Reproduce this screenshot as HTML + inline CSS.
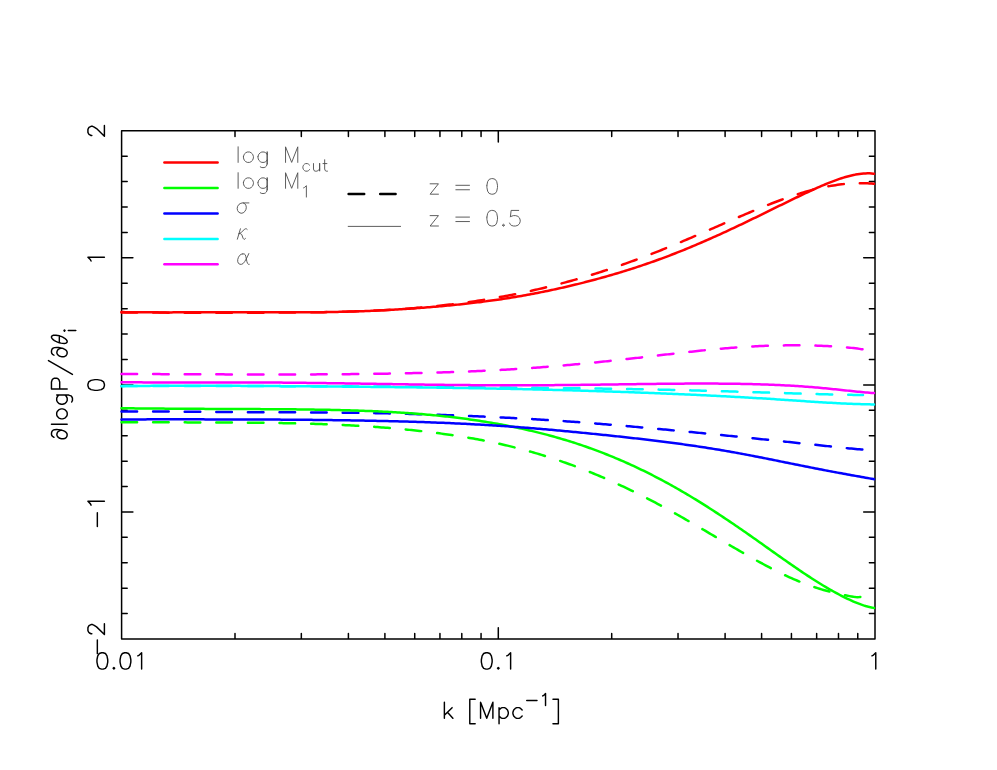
<!DOCTYPE html>
<html><head><meta charset="utf-8"><title>Chart</title>
<style>html,body{margin:0;padding:0;background:#fff;font-family:"Liberation Sans",sans-serif;}svg{display:block}</style>
</head><body>
<svg width="997" height="770" viewBox="0 0 997 770" fill="none" stroke-linecap="round" stroke-linejoin="round">
<path d="M121.6 130.8H875.0V639.0H121.6ZM121.6 639.00h11.3M875.0 639.00h-11.3M121.6 613.59h5.6M875.0 613.59h-5.6M121.6 588.18h5.6M875.0 588.18h-5.6M121.6 562.77h5.6M875.0 562.77h-5.6M121.6 537.36h5.6M875.0 537.36h-5.6M121.6 511.95h11.3M875.0 511.95h-11.3M121.6 486.54h5.6M875.0 486.54h-5.6M121.6 461.13h5.6M875.0 461.13h-5.6M121.6 435.72h5.6M875.0 435.72h-5.6M121.6 410.31h5.6M875.0 410.31h-5.6M121.6 384.90h11.3M875.0 384.90h-11.3M121.6 359.49h5.6M875.0 359.49h-5.6M121.6 334.08h5.6M875.0 334.08h-5.6M121.6 308.67h5.6M875.0 308.67h-5.6M121.6 283.26h5.6M875.0 283.26h-5.6M121.6 257.85h11.3M875.0 257.85h-11.3M121.6 232.44h5.6M875.0 232.44h-5.6M121.6 207.03h5.6M875.0 207.03h-5.6M121.6 181.62h5.6M875.0 181.62h-5.6M121.6 156.21h5.6M875.0 156.21h-5.6M121.6 130.80h11.3M875.0 130.80h-11.3M235.00 639.0v-5.6M235.00 130.8v5.6M301.33 639.0v-5.6M301.33 130.8v5.6M348.40 639.0v-5.6M348.40 130.8v5.6M384.90 639.0v-5.6M384.90 130.8v5.6M414.73 639.0v-5.6M414.73 130.8v5.6M439.95 639.0v-5.6M439.95 130.8v5.6M461.79 639.0v-5.6M461.79 130.8v5.6M481.06 639.0v-5.6M481.06 130.8v5.6M498.30 639.0v-11.3M498.30 130.8v11.3M611.70 639.0v-5.6M611.70 130.8v5.6M678.03 639.0v-5.6M678.03 130.8v5.6M725.10 639.0v-5.6M725.10 130.8v5.6M761.60 639.0v-5.6M761.60 130.8v5.6M791.43 639.0v-5.6M791.43 130.8v5.6M816.65 639.0v-5.6M816.65 130.8v5.6M838.49 639.0v-5.6M838.49 130.8v5.6M857.76 639.0v-5.6M857.76 130.8v5.6" stroke="#000" stroke-width="1.5" />
<path d="M121.5 312.50 123.5 312.50 125.5 312.51 127.5 312.52 129.5 312.53 131.5 312.54 133.5 312.55 135.5 312.55 137.5 312.56 139.5 312.57 141.5 312.57 143.5 312.58 145.5 312.58 147.5 312.59 149.5 312.59 151.5 312.60 153.5 312.60 155.5 312.61 157.5 312.61 159.5 312.61 161.5 312.62 163.5 312.62 165.5 312.62 167.5 312.63 169.5 312.63 171.5 312.63 173.5 312.63 175.5 312.63 177.5 312.64 179.5 312.64 181.5 312.64 183.5 312.64 185.5 312.64 187.5 312.64 189.5 312.64 191.5 312.64 193.5 312.64 195.5 312.64 197.5 312.64 199.5 312.65 201.5 312.65 203.5 312.65 205.5 312.65 207.5 312.65 209.5 312.65 211.5 312.65 213.5 312.65 215.5 312.65 217.5 312.65 219.5 312.65 221.5 312.65 223.5 312.65 225.5 312.65 227.5 312.65 229.5 312.65 231.5 312.65 233.5 312.65 235.5 312.65 237.5 312.65 239.5 312.66 241.5 312.66 243.5 312.66 245.5 312.66 247.5 312.66 249.5 312.66 251.5 312.66 253.5 312.66 255.5 312.66 257.5 312.65 259.5 312.65 261.5 312.65 263.5 312.65 265.5 312.65 267.5 312.64 269.5 312.64 271.5 312.63 273.5 312.63 275.5 312.62 277.5 312.61 279.5 312.61 281.5 312.60 283.5 312.59 285.5 312.58 287.5 312.56 289.5 312.55 291.5 312.54 293.5 312.52 295.5 312.51 297.5 312.49 299.5 312.47 301.5 312.46 303.5 312.44 305.5 312.41 307.5 312.39 309.5 312.37 311.5 312.34 313.5 312.31 315.5 312.29 317.5 312.25 319.5 312.22 321.5 312.19 323.5 312.16 325.5 312.12 327.5 312.08 329.5 312.04 331.5 312.00 333.5 311.96 335.5 311.91 337.5 311.86 339.5 311.81 341.5 311.76 343.5 311.71 345.5 311.66 347.5 311.60 349.5 311.54 351.5 311.48 353.5 311.41 355.5 311.35 357.5 311.28 359.5 311.21 361.5 311.14 363.5 311.06 365.5 310.98 367.5 310.90 369.5 310.82 371.5 310.73 373.5 310.64 375.5 310.55 377.5 310.45 379.5 310.35 381.5 310.25 383.5 310.15 385.5 310.04 387.5 309.93 389.5 309.82 391.5 309.70 393.5 309.58 395.5 309.45 397.5 309.33 399.5 309.19 401.5 309.06 403.5 308.92 405.5 308.78 407.5 308.63 409.5 308.48 411.5 308.33 413.5 308.17 415.5 308.01 417.5 307.85 419.5 307.68 421.5 307.50 423.5 307.33 425.5 307.14 427.5 306.96 429.5 306.77 431.5 306.57 433.5 306.37 435.5 306.17 437.5 305.96 439.5 305.75 441.5 305.53 443.5 305.31 445.5 305.08 447.5 304.85 449.5 304.61 451.5 304.37 453.5 304.13 455.5 303.88 457.5 303.63 459.5 303.37 461.5 303.10 463.5 302.83 465.5 302.56 467.5 302.28 469.5 302.00 471.5 301.71 473.5 301.42 475.5 301.12 477.5 300.82 479.5 300.51 481.5 300.20 483.5 299.88 485.5 299.56 487.5 299.23 489.5 298.90 491.5 298.56 493.5 298.22 495.5 297.87 497.5 297.52 499.5 297.16 501.5 296.80 503.5 296.43 505.5 296.06 507.5 295.68 509.5 295.29 511.5 294.90 513.5 294.51 515.5 294.11 517.5 293.71 519.5 293.29 521.5 292.88 523.5 292.46 525.5 292.03 527.5 291.60 529.5 291.16 531.5 290.72 533.5 290.27 535.5 289.82 537.5 289.36 539.5 288.89 541.5 288.42 543.5 287.95 545.5 287.46 547.5 286.98 549.5 286.49 551.5 285.99 553.5 285.48 555.5 284.98 557.5 284.46 559.5 283.94 561.5 283.42 563.5 282.88 565.5 282.35 567.5 281.80 569.5 281.26 571.5 280.70 573.5 280.14 575.5 279.58 577.5 279.01 579.5 278.43 581.5 277.85 583.5 277.26 585.5 276.66 587.5 276.06 589.5 275.46 591.5 274.85 593.5 274.23 595.5 273.61 597.5 272.98 599.5 272.34 601.5 271.70 603.5 271.06 605.5 270.40 607.5 269.75 609.5 269.08 611.5 268.42 613.5 267.74 615.5 267.06 617.5 266.38 619.5 265.69 621.5 264.99 623.5 264.29 625.5 263.59 627.5 262.88 629.5 262.16 631.5 261.44 633.5 260.71 635.5 259.98 637.5 259.24 639.5 258.50 641.5 257.75 643.5 257.00 645.5 256.24 647.5 255.48 649.5 254.71 651.5 253.94 653.5 253.16 655.5 252.38 657.5 251.60 659.5 250.80 661.5 250.01 663.5 249.21 665.5 248.40 667.5 247.59 669.5 246.78 671.5 245.96 673.5 245.13 675.5 244.31 677.5 243.47 679.5 242.64 681.5 241.80 683.5 240.96 685.5 240.11 687.5 239.26 689.5 238.41 691.5 237.55 693.5 236.70 695.5 235.84 697.5 234.97 699.5 234.11 701.5 233.25 703.5 232.38 705.5 231.51 707.5 230.64 709.5 229.77 711.5 228.90 713.5 228.03 715.5 227.16 717.5 226.29 719.5 225.42 721.5 224.55 723.5 223.68 725.5 222.81 727.5 221.94 729.5 221.07 731.5 220.21 733.5 219.34 735.5 218.48 737.5 217.62 739.5 216.76 741.5 215.91 743.5 215.05 745.5 214.20 747.5 213.35 749.5 212.51 751.5 211.67 753.5 210.83 755.5 210.00 757.5 209.17 759.5 208.34 761.5 207.53 763.5 206.71 765.5 205.91 767.5 205.11 769.5 204.32 771.5 203.53 773.5 202.76 775.5 201.99 777.5 201.23 779.5 200.48 781.5 199.74 783.5 199.01 785.5 198.30 787.5 197.59 789.5 196.90 791.5 196.21 793.5 195.54 795.5 194.89 797.5 194.24 799.5 193.61 801.5 193.00 803.5 192.40 805.5 191.81 807.5 191.24 809.5 190.69 811.5 190.15 813.5 189.64 815.5 189.13 817.5 188.65 819.5 188.18 821.5 187.73 823.5 187.31 825.5 186.90 827.5 186.51 829.5 186.14 831.5 185.79 833.5 185.46 835.5 185.15 837.5 184.86 839.5 184.60 841.5 184.35 843.5 184.13 845.5 183.94 847.5 183.76 849.5 183.61 851.5 183.48 853.5 183.38 855.5 183.30 857.5 183.25 859.5 183.22 861.5 183.22 863.5 183.24 865.5 183.29 867.5 183.36 869.5 183.47 871.5 183.59 873.5 183.74 874.0 183.79" stroke="#ff0000" stroke-width="2.5" stroke-dasharray="15.6 16"/>
<path d="M121.5 422.20 123.5 422.20 125.5 422.21 127.5 422.21 129.5 422.22 131.5 422.23 133.5 422.23 135.5 422.24 137.5 422.24 139.5 422.25 141.5 422.25 143.5 422.26 145.5 422.26 147.5 422.27 149.5 422.27 151.5 422.28 153.5 422.28 155.5 422.29 157.5 422.29 159.5 422.30 161.5 422.30 163.5 422.31 165.5 422.32 167.5 422.32 169.5 422.33 171.5 422.33 173.5 422.34 175.5 422.34 177.5 422.35 179.5 422.35 181.5 422.36 183.5 422.36 185.5 422.37 187.5 422.38 189.5 422.38 191.5 422.39 193.5 422.40 195.5 422.40 197.5 422.41 199.5 422.42 201.5 422.43 203.5 422.43 205.5 422.44 207.5 422.45 209.5 422.46 211.5 422.47 213.5 422.48 215.5 422.49 217.5 422.50 219.5 422.51 221.5 422.52 223.5 422.53 225.5 422.54 227.5 422.55 229.5 422.56 231.5 422.57 233.5 422.59 235.5 422.60 237.5 422.61 239.5 422.62 241.5 422.64 243.5 422.65 245.5 422.67 247.5 422.69 249.5 422.70 251.5 422.72 253.5 422.74 255.5 422.76 257.5 422.78 259.5 422.80 261.5 422.82 263.5 422.85 265.5 422.87 267.5 422.89 269.5 422.92 271.5 422.95 273.5 422.98 275.5 423.01 277.5 423.04 279.5 423.07 281.5 423.10 283.5 423.14 285.5 423.18 287.5 423.21 289.5 423.25 291.5 423.30 293.5 423.34 295.5 423.38 297.5 423.43 299.5 423.48 301.5 423.53 303.5 423.58 305.5 423.63 307.5 423.68 309.5 423.74 311.5 423.80 313.5 423.86 315.5 423.92 317.5 423.99 319.5 424.06 321.5 424.12 323.5 424.20 325.5 424.27 327.5 424.35 329.5 424.42 331.5 424.50 333.5 424.59 335.5 424.67 337.5 424.76 339.5 424.85 341.5 424.94 343.5 425.04 345.5 425.14 347.5 425.24 349.5 425.34 351.5 425.44 353.5 425.55 355.5 425.66 357.5 425.78 359.5 425.90 361.5 426.02 363.5 426.14 365.5 426.27 367.5 426.39 369.5 426.53 371.5 426.66 373.5 426.80 375.5 426.94 377.5 427.09 379.5 427.23 381.5 427.39 383.5 427.54 385.5 427.70 387.5 427.86 389.5 428.02 391.5 428.19 393.5 428.36 395.5 428.54 397.5 428.72 399.5 428.90 401.5 429.08 403.5 429.27 405.5 429.47 407.5 429.66 409.5 429.87 411.5 430.07 413.5 430.28 415.5 430.49 417.5 430.71 419.5 430.93 421.5 431.15 423.5 431.38 425.5 431.61 427.5 431.85 429.5 432.09 431.5 432.33 433.5 432.58 435.5 432.84 437.5 433.09 439.5 433.36 441.5 433.62 443.5 433.90 445.5 434.17 447.5 434.45 449.5 434.74 451.5 435.03 453.5 435.33 455.5 435.63 457.5 435.94 459.5 436.25 461.5 436.57 463.5 436.90 465.5 437.23 467.5 437.56 469.5 437.90 471.5 438.25 473.5 438.60 475.5 438.96 477.5 439.33 479.5 439.70 481.5 440.08 483.5 440.47 485.5 440.86 487.5 441.26 489.5 441.67 491.5 442.08 493.5 442.50 495.5 442.93 497.5 443.36 499.5 443.80 501.5 444.25 503.5 444.71 505.5 445.17 507.5 445.64 509.5 446.12 511.5 446.61 513.5 447.11 515.5 447.61 517.5 448.12 519.5 448.64 521.5 449.17 523.5 449.70 525.5 450.25 527.5 450.80 529.5 451.36 531.5 451.92 533.5 452.50 535.5 453.08 537.5 453.67 539.5 454.27 541.5 454.88 543.5 455.49 545.5 456.12 547.5 456.75 549.5 457.39 551.5 458.03 553.5 458.69 555.5 459.35 557.5 460.02 559.5 460.70 561.5 461.39 563.5 462.09 565.5 462.79 567.5 463.50 569.5 464.22 571.5 464.95 573.5 465.69 575.5 466.43 577.5 467.18 579.5 467.95 581.5 468.72 583.5 469.49 585.5 470.28 587.5 471.07 589.5 471.87 591.5 472.68 593.5 473.50 595.5 474.33 597.5 475.16 599.5 476.01 601.5 476.86 603.5 477.72 605.5 478.58 607.5 479.46 609.5 480.34 611.5 481.23 613.5 482.13 615.5 483.04 617.5 483.95 619.5 484.87 621.5 485.80 623.5 486.74 625.5 487.68 627.5 488.63 629.5 489.59 631.5 490.56 633.5 491.54 635.5 492.52 637.5 493.51 639.5 494.50 641.5 495.51 643.5 496.52 645.5 497.53 647.5 498.56 649.5 499.59 651.5 500.63 653.5 501.68 655.5 502.73 657.5 503.79 659.5 504.86 661.5 505.93 663.5 507.01 665.5 508.10 667.5 509.19 669.5 510.29 671.5 511.40 673.5 512.51 675.5 513.63 677.5 514.76 679.5 515.89 681.5 517.03 683.5 518.17 685.5 519.31 687.5 520.46 689.5 521.62 691.5 522.77 693.5 523.93 695.5 525.10 697.5 526.26 699.5 527.43 701.5 528.61 703.5 529.78 705.5 530.95 707.5 532.13 709.5 533.30 711.5 534.48 713.5 535.66 715.5 536.84 717.5 538.01 719.5 539.19 721.5 540.36 723.5 541.54 725.5 542.71 727.5 543.88 729.5 545.05 731.5 546.22 733.5 547.38 735.5 548.54 737.5 549.70 739.5 550.85 741.5 552.00 743.5 553.14 745.5 554.28 747.5 555.42 749.5 556.55 751.5 557.67 753.5 558.79 755.5 559.90 757.5 561.01 759.5 562.10 761.5 563.19 763.5 564.27 765.5 565.34 767.5 566.40 769.5 567.45 771.5 568.49 773.5 569.52 775.5 570.54 777.5 571.54 779.5 572.53 781.5 573.51 783.5 574.47 785.5 575.42 787.5 576.35 789.5 577.27 791.5 578.17 793.5 579.05 795.5 579.92 797.5 580.76 799.5 581.59 801.5 582.40 803.5 583.19 805.5 583.97 807.5 584.71 809.5 585.44 811.5 586.15 813.5 586.83 815.5 587.50 817.5 588.14 819.5 588.77 821.5 589.37 823.5 589.96 825.5 590.52 827.5 591.07 829.5 591.61 831.5 592.13 833.5 592.63 835.5 593.11 837.5 593.58 839.5 594.04 841.5 594.48 843.5 594.91 845.5 595.33 847.5 595.74 849.5 596.13 851.5 596.51 853.5 596.85 855.5 597.08 857.5 597.18 859.5 597.07 861.2 596.80" stroke="#00ff00" stroke-width="2.5" stroke-dasharray="15.6 16"/>
<path d="M121.5 411.49 123.5 411.49 125.5 411.49 127.5 411.48 129.5 411.48 131.5 411.48 133.5 411.48 135.5 411.48 137.5 411.49 139.5 411.49 141.5 411.49 143.5 411.50 145.5 411.50 147.5 411.50 149.5 411.51 151.5 411.52 153.5 411.52 155.5 411.53 157.5 411.54 159.5 411.55 161.5 411.56 163.5 411.57 165.5 411.58 167.5 411.59 169.5 411.60 171.5 411.61 173.5 411.62 175.5 411.63 177.5 411.65 179.5 411.66 181.5 411.67 183.5 411.69 185.5 411.70 187.5 411.71 189.5 411.73 191.5 411.74 193.5 411.76 195.5 411.77 197.5 411.79 199.5 411.80 201.5 411.82 203.5 411.83 205.5 411.85 207.5 411.86 209.5 411.88 211.5 411.89 213.5 411.91 215.5 411.92 217.5 411.94 219.5 411.95 221.5 411.97 223.5 411.98 225.5 412.00 227.5 412.01 229.5 412.03 231.5 412.04 233.5 412.06 235.5 412.07 237.5 412.08 239.5 412.10 241.5 412.11 243.5 412.12 245.5 412.14 247.5 412.15 249.5 412.16 251.5 412.17 253.5 412.18 255.5 412.19 257.5 412.20 259.5 412.21 261.5 412.22 263.5 412.23 265.5 412.24 267.5 412.25 269.5 412.26 271.5 412.27 273.5 412.28 275.5 412.29 277.5 412.29 279.5 412.30 281.5 412.31 283.5 412.32 285.5 412.33 287.5 412.34 289.5 412.35 291.5 412.35 293.5 412.36 295.5 412.37 297.5 412.38 299.5 412.39 301.5 412.40 303.5 412.41 305.5 412.42 307.5 412.43 309.5 412.44 311.5 412.45 313.5 412.46 315.5 412.47 317.5 412.49 319.5 412.50 321.5 412.51 323.5 412.53 325.5 412.54 327.5 412.55 329.5 412.57 331.5 412.59 333.5 412.60 335.5 412.62 337.5 412.64 339.5 412.65 341.5 412.67 343.5 412.69 345.5 412.71 347.5 412.74 349.5 412.76 351.5 412.78 353.5 412.80 355.5 412.83 357.5 412.85 359.5 412.88 361.5 412.91 363.5 412.94 365.5 412.97 367.5 413.00 369.5 413.03 371.5 413.06 373.5 413.09 375.5 413.13 377.5 413.17 379.5 413.20 381.5 413.24 383.5 413.28 385.5 413.32 387.5 413.36 389.5 413.41 391.5 413.45 393.5 413.50 395.5 413.54 397.5 413.59 399.5 413.64 401.5 413.69 403.5 413.74 405.5 413.79 407.5 413.85 409.5 413.90 411.5 413.96 413.5 414.01 415.5 414.07 417.5 414.13 419.5 414.19 421.5 414.25 423.5 414.31 425.5 414.37 427.5 414.44 429.5 414.50 431.5 414.57 433.5 414.63 435.5 414.70 437.5 414.77 439.5 414.84 441.5 414.91 443.5 414.98 445.5 415.06 447.5 415.13 449.5 415.21 451.5 415.28 453.5 415.36 455.5 415.43 457.5 415.51 459.5 415.59 461.5 415.67 463.5 415.75 465.5 415.83 467.5 415.92 469.5 416.00 471.5 416.08 473.5 416.17 475.5 416.26 477.5 416.34 479.5 416.43 481.5 416.52 483.5 416.61 485.5 416.70 487.5 416.79 489.5 416.88 491.5 416.98 493.5 417.07 495.5 417.17 497.5 417.26 499.5 417.36 501.5 417.46 503.5 417.56 505.5 417.66 507.5 417.76 509.5 417.86 511.5 417.97 513.5 418.07 515.5 418.18 517.5 418.29 519.5 418.40 521.5 418.51 523.5 418.62 525.5 418.73 527.5 418.84 529.5 418.96 531.5 419.07 533.5 419.19 535.5 419.31 537.5 419.43 539.5 419.55 541.5 419.67 543.5 419.79 545.5 419.92 547.5 420.05 549.5 420.17 551.5 420.30 553.5 420.43 555.5 420.56 557.5 420.70 559.5 420.83 561.5 420.97 563.5 421.11 565.5 421.25 567.5 421.39 569.5 421.53 571.5 421.67 573.5 421.82 575.5 421.96 577.5 422.11 579.5 422.26 581.5 422.41 583.5 422.56 585.5 422.71 587.5 422.86 589.5 423.02 591.5 423.17 593.5 423.33 595.5 423.49 597.5 423.65 599.5 423.81 601.5 423.97 603.5 424.13 605.5 424.30 607.5 424.46 609.5 424.63 611.5 424.79 613.5 424.96 615.5 425.13 617.5 425.30 619.5 425.47 621.5 425.64 623.5 425.81 625.5 425.99 627.5 426.16 629.5 426.34 631.5 426.51 633.5 426.69 635.5 426.87 637.5 427.04 639.5 427.22 641.5 427.40 643.5 427.58 645.5 427.76 647.5 427.95 649.5 428.13 651.5 428.31 653.5 428.50 655.5 428.68 657.5 428.87 659.5 429.05 661.5 429.24 663.5 429.42 665.5 429.61 667.5 429.80 669.5 429.99 671.5 430.18 673.5 430.37 675.5 430.56 677.5 430.75 679.5 430.94 681.5 431.13 683.5 431.32 685.5 431.52 687.5 431.71 689.5 431.90 691.5 432.10 693.5 432.29 695.5 432.49 697.5 432.69 699.5 432.88 701.5 433.08 703.5 433.28 705.5 433.47 707.5 433.67 709.5 433.87 711.5 434.07 713.5 434.27 715.5 434.47 717.5 434.67 719.5 434.87 721.5 435.07 723.5 435.27 725.5 435.48 727.5 435.68 729.5 435.88 731.5 436.08 733.5 436.29 735.5 436.49 737.5 436.69 739.5 436.90 741.5 437.10 743.5 437.31 745.5 437.51 747.5 437.72 749.5 437.92 751.5 438.13 753.5 438.34 755.5 438.54 757.5 438.75 759.5 438.96 761.5 439.16 763.5 439.37 765.5 439.58 767.5 439.79 769.5 440.00 771.5 440.21 773.5 440.42 775.5 440.62 777.5 440.83 779.5 441.04 781.5 441.25 783.5 441.46 785.5 441.67 787.5 441.88 789.5 442.10 791.5 442.31 793.5 442.52 795.5 442.73 797.5 442.94 799.5 443.15 801.5 443.36 803.5 443.58 805.5 443.79 807.5 444.00 809.5 444.21 811.5 444.43 813.5 444.64 815.5 444.85 817.5 445.07 819.5 445.28 821.5 445.49 823.5 445.71 825.5 445.92 827.5 446.13 829.5 446.34 831.5 446.56 833.5 446.77 835.5 446.98 837.5 447.18 839.5 447.39 841.5 447.60 843.5 447.80 845.5 448.00 847.5 448.20 849.5 448.39 851.5 448.59 853.5 448.78 855.5 448.96 857.5 449.15 859.5 449.33 861.5 449.51 863.3 449.66" stroke="#0000ff" stroke-width="2.5" stroke-dasharray="15.6 16"/>
<path d="M121.5 386.00 123.5 386.01 125.5 386.01 127.5 386.02 129.5 386.02 131.5 386.03 133.5 386.03 135.5 386.04 137.5 386.04 139.5 386.05 141.5 386.05 143.5 386.06 145.5 386.06 147.5 386.06 149.5 386.07 151.5 386.07 153.5 386.07 155.5 386.07 157.5 386.08 159.5 386.08 161.5 386.08 163.5 386.08 165.5 386.08 167.5 386.09 169.5 386.09 171.5 386.09 173.5 386.09 175.5 386.09 177.5 386.09 179.5 386.09 181.5 386.09 183.5 386.09 185.5 386.10 187.5 386.10 189.5 386.10 191.5 386.10 193.5 386.10 195.5 386.10 197.5 386.10 199.5 386.10 201.5 386.10 203.5 386.10 205.5 386.10 207.5 386.10 209.5 386.10 211.5 386.10 213.5 386.10 215.5 386.10 217.5 386.10 219.5 386.10 221.5 386.10 223.5 386.10 225.5 386.10 227.5 386.10 229.5 386.10 231.5 386.10 233.5 386.10 235.5 386.10 237.5 386.10 239.5 386.10 241.5 386.10 243.5 386.10 245.5 386.10 247.5 386.10 249.5 386.10 251.5 386.10 253.5 386.10 255.5 386.10 257.5 386.10 259.5 386.10 261.5 386.10 263.5 386.11 265.5 386.11 267.5 386.11 269.5 386.11 271.5 386.11 273.5 386.12 275.5 386.12 277.5 386.12 279.5 386.12 281.5 386.13 283.5 386.13 285.5 386.13 287.5 386.14 289.5 386.14 291.5 386.14 293.5 386.15 295.5 386.15 297.5 386.16 299.5 386.16 301.5 386.17 303.5 386.17 305.5 386.18 307.5 386.19 309.5 386.19 311.5 386.20 313.5 386.20 315.5 386.21 317.5 386.22 319.5 386.23 321.5 386.23 323.5 386.24 325.5 386.25 327.5 386.26 329.5 386.27 331.5 386.27 333.5 386.28 335.5 386.29 337.5 386.30 339.5 386.31 341.5 386.32 343.5 386.33 345.5 386.34 347.5 386.35 349.5 386.36 351.5 386.37 353.5 386.38 355.5 386.39 357.5 386.41 359.5 386.42 361.5 386.43 363.5 386.44 365.5 386.45 367.5 386.46 369.5 386.48 371.5 386.49 373.5 386.50 375.5 386.51 377.5 386.53 379.5 386.54 381.5 386.55 383.5 386.57 385.5 386.58 387.5 386.59 389.5 386.61 391.5 386.62 393.5 386.64 395.5 386.65 397.5 386.67 399.5 386.68 401.5 386.69 403.5 386.71 405.5 386.72 407.5 386.74 409.5 386.75 411.5 386.77 413.5 386.79 415.5 386.80 417.5 386.82 419.5 386.83 421.5 386.85 423.5 386.86 425.5 386.88 427.5 386.90 429.5 386.91 431.5 386.93 433.5 386.94 435.5 386.96 437.5 386.98 439.5 386.99 441.5 387.01 443.5 387.03 445.5 387.04 447.5 387.06 449.5 387.08 451.5 387.10 453.5 387.11 455.5 387.13 457.5 387.15 459.5 387.16 461.5 387.18 463.5 387.20 465.5 387.22 467.5 387.23 469.5 387.25 471.5 387.27 473.5 387.29 475.5 387.31 477.5 387.32 479.5 387.34 481.5 387.36 483.5 387.38 485.5 387.39 487.5 387.41 489.5 387.43 491.5 387.45 493.5 387.47 495.5 387.48 497.5 387.50 499.5 387.52 501.5 387.54 503.5 387.56 505.5 387.57 507.5 387.59 509.5 387.61 511.5 387.63 513.5 387.65 515.5 387.67 517.5 387.68 519.5 387.70 521.5 387.72 523.5 387.74 525.5 387.76 527.5 387.78 529.5 387.80 531.5 387.81 533.5 387.83 535.5 387.85 537.5 387.87 539.5 387.89 541.5 387.91 543.5 387.93 545.5 387.95 547.5 387.97 549.5 387.99 551.5 388.01 553.5 388.03 555.5 388.06 557.5 388.08 559.5 388.10 561.5 388.12 563.5 388.14 565.5 388.16 567.5 388.19 569.5 388.21 571.5 388.23 573.5 388.26 575.5 388.28 577.5 388.30 579.5 388.33 581.5 388.35 583.5 388.38 585.5 388.40 587.5 388.43 589.5 388.45 591.5 388.48 593.5 388.51 595.5 388.53 597.5 388.56 599.5 388.59 601.5 388.62 603.5 388.65 605.5 388.67 607.5 388.70 609.5 388.73 611.5 388.76 613.5 388.79 615.5 388.83 617.5 388.86 619.5 388.89 621.5 388.92 623.5 388.96 625.5 388.99 627.5 389.02 629.5 389.06 631.5 389.09 633.5 389.13 635.5 389.16 637.5 389.20 639.5 389.24 641.5 389.28 643.5 389.31 645.5 389.35 647.5 389.39 649.5 389.43 651.5 389.47 653.5 389.51 655.5 389.55 657.5 389.60 659.5 389.64 661.5 389.68 663.5 389.73 665.5 389.77 667.5 389.82 669.5 389.86 671.5 389.91 673.5 389.95 675.5 390.00 677.5 390.05 679.5 390.10 681.5 390.15 683.5 390.19 685.5 390.24 687.5 390.29 689.5 390.34 691.5 390.39 693.5 390.45 695.5 390.50 697.5 390.55 699.5 390.60 701.5 390.65 703.5 390.71 705.5 390.76 707.5 390.82 709.5 390.87 711.5 390.92 713.5 390.98 715.5 391.03 717.5 391.09 719.5 391.15 721.5 391.20 723.5 391.26 725.5 391.32 727.5 391.37 729.5 391.43 731.5 391.49 733.5 391.55 735.5 391.61 737.5 391.66 739.5 391.72 741.5 391.78 743.5 391.84 745.5 391.90 747.5 391.96 749.5 392.02 751.5 392.08 753.5 392.14 755.5 392.20 757.5 392.26 759.5 392.33 761.5 392.39 763.5 392.45 765.5 392.51 767.5 392.57 769.5 392.63 771.5 392.70 773.5 392.76 775.5 392.82 777.5 392.88 779.5 392.94 781.5 393.01 783.5 393.07 785.5 393.13 787.5 393.19 789.5 393.26 791.5 393.32 793.5 393.38 795.5 393.44 797.5 393.50 799.5 393.56 801.5 393.63 803.5 393.69 805.5 393.75 807.5 393.80 809.5 393.86 811.5 393.92 813.5 393.98 815.5 394.03 817.5 394.09 819.5 394.14 821.5 394.20 823.5 394.25 825.5 394.30 827.5 394.35 829.5 394.40 831.5 394.45 833.5 394.50 835.5 394.54 837.5 394.59 839.5 394.63 841.5 394.67 843.5 394.71 845.5 394.75 847.5 394.78 849.5 394.82 851.5 394.85 853.5 394.88 855.5 394.91 857.5 394.94 859.5 394.96 861.5 394.99 863.0 395.00" stroke="#00ffff" stroke-width="2.5" stroke-dasharray="15.6 16"/>
<path d="M121.5 374.09 123.5 374.09 125.5 374.09 127.5 374.09 129.5 374.09 131.5 374.09 133.5 374.09 135.5 374.09 137.5 374.09 139.5 374.09 141.5 374.09 143.5 374.09 145.5 374.10 147.5 374.10 149.5 374.10 151.5 374.11 153.5 374.11 155.5 374.11 157.5 374.12 159.5 374.12 161.5 374.13 163.5 374.14 165.5 374.14 167.5 374.15 169.5 374.15 171.5 374.16 173.5 374.17 175.5 374.18 177.5 374.18 179.5 374.19 181.5 374.20 183.5 374.21 185.5 374.21 187.5 374.22 189.5 374.23 191.5 374.24 193.5 374.25 195.5 374.25 197.5 374.26 199.5 374.27 201.5 374.28 203.5 374.29 205.5 374.30 207.5 374.31 209.5 374.31 211.5 374.32 213.5 374.33 215.5 374.34 217.5 374.35 219.5 374.35 221.5 374.36 223.5 374.37 225.5 374.38 227.5 374.39 229.5 374.39 231.5 374.40 233.5 374.41 235.5 374.41 237.5 374.42 239.5 374.43 241.5 374.43 243.5 374.44 245.5 374.44 247.5 374.45 249.5 374.45 251.5 374.46 253.5 374.46 255.5 374.46 257.5 374.47 259.5 374.47 261.5 374.47 263.5 374.48 265.5 374.48 267.5 374.48 269.5 374.48 271.5 374.48 273.5 374.48 275.5 374.48 277.5 374.48 279.5 374.48 281.5 374.48 283.5 374.48 285.5 374.47 287.5 374.47 289.5 374.47 291.5 374.47 293.5 374.46 295.5 374.46 297.5 374.45 299.5 374.45 301.5 374.44 303.5 374.43 305.5 374.43 307.5 374.42 309.5 374.41 311.5 374.40 313.5 374.39 315.5 374.38 317.5 374.37 319.5 374.36 321.5 374.35 323.5 374.34 325.5 374.33 327.5 374.32 329.5 374.30 331.5 374.29 333.5 374.27 335.5 374.26 337.5 374.24 339.5 374.22 341.5 374.21 343.5 374.19 345.5 374.17 347.5 374.15 349.5 374.13 351.5 374.11 353.5 374.09 355.5 374.07 357.5 374.05 359.5 374.02 361.5 374.00 363.5 373.98 365.5 373.95 367.5 373.93 369.5 373.90 371.5 373.87 373.5 373.84 375.5 373.81 377.5 373.79 379.5 373.76 381.5 373.72 383.5 373.69 385.5 373.66 387.5 373.63 389.5 373.59 391.5 373.56 393.5 373.52 395.5 373.49 397.5 373.45 399.5 373.41 401.5 373.37 403.5 373.33 405.5 373.29 407.5 373.25 409.5 373.21 411.5 373.17 413.5 373.12 415.5 373.08 417.5 373.03 419.5 372.98 421.5 372.94 423.5 372.89 425.5 372.84 427.5 372.78 429.5 372.73 431.5 372.68 433.5 372.62 435.5 372.57 437.5 372.51 439.5 372.45 441.5 372.39 443.5 372.33 445.5 372.27 447.5 372.20 449.5 372.14 451.5 372.07 453.5 372.00 455.5 371.93 457.5 371.86 459.5 371.79 461.5 371.71 463.5 371.64 465.5 371.56 467.5 371.48 469.5 371.40 471.5 371.32 473.5 371.24 475.5 371.15 477.5 371.06 479.5 370.97 481.5 370.88 483.5 370.79 485.5 370.70 487.5 370.60 489.5 370.50 491.5 370.40 493.5 370.30 495.5 370.20 497.5 370.09 499.5 369.98 501.5 369.87 503.5 369.76 505.5 369.65 507.5 369.53 509.5 369.41 511.5 369.29 513.5 369.17 515.5 369.05 517.5 368.92 519.5 368.79 521.5 368.66 523.5 368.53 525.5 368.39 527.5 368.25 529.5 368.11 531.5 367.97 533.5 367.83 535.5 367.68 537.5 367.53 539.5 367.38 541.5 367.23 543.5 367.08 545.5 366.92 547.5 366.76 549.5 366.60 551.5 366.44 553.5 366.27 555.5 366.11 557.5 365.94 559.5 365.77 561.5 365.60 563.5 365.42 565.5 365.25 567.5 365.07 569.5 364.89 571.5 364.71 573.5 364.53 575.5 364.34 577.5 364.15 579.5 363.97 581.5 363.78 583.5 363.59 585.5 363.39 587.5 363.20 589.5 363.00 591.5 362.80 593.5 362.61 595.5 362.40 597.5 362.20 599.5 362.00 601.5 361.79 603.5 361.59 605.5 361.38 607.5 361.17 609.5 360.96 611.5 360.75 613.5 360.53 615.5 360.32 617.5 360.10 619.5 359.88 621.5 359.67 623.5 359.45 625.5 359.22 627.5 359.00 629.5 358.78 631.5 358.55 633.5 358.33 635.5 358.10 637.5 357.87 639.5 357.64 641.5 357.41 643.5 357.18 645.5 356.95 647.5 356.72 649.5 356.48 651.5 356.25 653.5 356.01 655.5 355.78 657.5 355.55 659.5 355.31 661.5 355.08 663.5 354.84 665.5 354.61 667.5 354.37 669.5 354.14 671.5 353.91 673.5 353.67 675.5 353.44 677.5 353.21 679.5 352.98 681.5 352.76 683.5 352.53 685.5 352.31 687.5 352.08 689.5 351.86 691.5 351.64 693.5 351.42 695.5 351.21 697.5 351.00 699.5 350.79 701.5 350.58 703.5 350.37 705.5 350.17 707.5 349.97 709.5 349.77 711.5 349.57 713.5 349.38 715.5 349.19 717.5 349.01 719.5 348.83 721.5 348.65 723.5 348.48 725.5 348.31 727.5 348.14 729.5 347.98 731.5 347.82 733.5 347.67 735.5 347.52 737.5 347.37 739.5 347.23 741.5 347.10 743.5 346.97 745.5 346.84 747.5 346.72 749.5 346.60 751.5 346.49 753.5 346.39 755.5 346.28 757.5 346.19 759.5 346.10 761.5 346.01 763.5 345.93 765.5 345.85 767.5 345.78 769.5 345.71 771.5 345.65 773.5 345.60 775.5 345.55 777.5 345.50 779.5 345.46 781.5 345.42 783.5 345.39 785.5 345.37 787.5 345.35 789.5 345.33 791.5 345.32 793.5 345.32 795.5 345.32 797.5 345.32 799.5 345.33 801.5 345.35 803.5 345.37 805.5 345.40 807.5 345.43 809.5 345.47 811.5 345.51 813.5 345.56 815.5 345.61 817.5 345.67 819.5 345.74 821.5 345.81 823.5 345.88 825.5 345.97 827.5 346.05 829.5 346.15 831.5 346.26 833.5 346.37 835.5 346.49 837.5 346.62 839.5 346.77 841.5 346.92 843.5 347.08 845.5 347.26 847.5 347.45 849.5 347.65 851.5 347.87 853.5 348.10 855.5 348.34 857.5 348.60 859.5 348.87 861.5 349.16 863.5 349.47" stroke="#ff00ff" stroke-width="2.5" stroke-dasharray="15.6 16"/>
<path d="M121.5 312.09 123.5 312.12 125.5 312.14 127.5 312.17 129.5 312.19 131.5 312.22 133.5 312.24 135.5 312.26 137.5 312.27 139.5 312.29 141.5 312.30 143.5 312.32 145.5 312.33 147.5 312.34 149.5 312.35 151.5 312.36 153.5 312.36 155.5 312.37 157.5 312.37 159.5 312.38 161.5 312.38 163.5 312.38 165.5 312.38 167.5 312.38 169.5 312.38 171.5 312.38 173.5 312.37 175.5 312.37 177.5 312.37 179.5 312.36 181.5 312.36 183.5 312.35 185.5 312.35 187.5 312.34 189.5 312.34 191.5 312.33 193.5 312.32 195.5 312.32 197.5 312.31 199.5 312.31 201.5 312.30 203.5 312.29 205.5 312.29 207.5 312.28 209.5 312.28 211.5 312.27 213.5 312.27 215.5 312.26 217.5 312.26 219.5 312.25 221.5 312.25 223.5 312.25 225.5 312.25 227.5 312.25 229.5 312.25 231.5 312.25 233.5 312.25 235.5 312.25 237.5 312.25 239.5 312.26 241.5 312.26 243.5 312.27 245.5 312.27 247.5 312.28 249.5 312.28 251.5 312.29 253.5 312.30 255.5 312.30 257.5 312.31 259.5 312.32 261.5 312.32 263.5 312.33 265.5 312.34 267.5 312.34 269.5 312.35 271.5 312.35 273.5 312.36 275.5 312.36 277.5 312.37 279.5 312.37 281.5 312.37 283.5 312.37 285.5 312.37 287.5 312.37 289.5 312.37 291.5 312.37 293.5 312.37 295.5 312.36 297.5 312.36 299.5 312.35 301.5 312.34 303.5 312.34 305.5 312.32 307.5 312.31 309.5 312.30 311.5 312.28 313.5 312.27 315.5 312.25 317.5 312.23 319.5 312.21 321.5 312.18 323.5 312.16 325.5 312.13 327.5 312.10 329.5 312.06 331.5 312.03 333.5 311.99 335.5 311.95 337.5 311.91 339.5 311.87 341.5 311.82 343.5 311.77 345.5 311.72 347.5 311.66 349.5 311.61 351.5 311.55 353.5 311.48 355.5 311.42 357.5 311.35 359.5 311.28 361.5 311.21 363.5 311.14 365.5 311.06 367.5 310.98 369.5 310.89 371.5 310.81 373.5 310.72 375.5 310.63 377.5 310.54 379.5 310.44 381.5 310.34 383.5 310.24 385.5 310.14 387.5 310.03 389.5 309.92 391.5 309.81 393.5 309.70 395.5 309.58 397.5 309.46 399.5 309.34 401.5 309.21 403.5 309.09 405.5 308.96 407.5 308.83 409.5 308.69 411.5 308.55 413.5 308.41 415.5 308.27 417.5 308.12 419.5 307.98 421.5 307.82 423.5 307.67 425.5 307.52 427.5 307.36 429.5 307.20 431.5 307.03 433.5 306.86 435.5 306.69 437.5 306.52 439.5 306.35 441.5 306.17 443.5 305.99 445.5 305.80 447.5 305.62 449.5 305.43 451.5 305.23 453.5 305.03 455.5 304.83 457.5 304.63 459.5 304.42 461.5 304.21 463.5 304.00 465.5 303.78 467.5 303.55 469.5 303.33 471.5 303.10 473.5 302.86 475.5 302.63 477.5 302.38 479.5 302.14 481.5 301.89 483.5 301.63 485.5 301.37 487.5 301.11 489.5 300.84 491.5 300.57 493.5 300.29 495.5 300.01 497.5 299.72 499.5 299.43 501.5 299.14 503.5 298.84 505.5 298.53 507.5 298.22 509.5 297.90 511.5 297.58 513.5 297.25 515.5 296.92 517.5 296.59 519.5 296.24 521.5 295.90 523.5 295.54 525.5 295.19 527.5 294.82 529.5 294.46 531.5 294.08 533.5 293.70 535.5 293.32 537.5 292.93 539.5 292.54 541.5 292.14 543.5 291.74 545.5 291.33 547.5 290.91 549.5 290.49 551.5 290.07 553.5 289.64 555.5 289.21 557.5 288.77 559.5 288.32 561.5 287.87 563.5 287.42 565.5 286.96 567.5 286.49 569.5 286.02 571.5 285.55 573.5 285.07 575.5 284.58 577.5 284.09 579.5 283.59 581.5 283.09 583.5 282.59 585.5 282.08 587.5 281.56 589.5 281.04 591.5 280.51 593.5 279.98 595.5 279.45 597.5 278.91 599.5 278.36 601.5 277.81 603.5 277.25 605.5 276.69 607.5 276.12 609.5 275.55 611.5 274.97 613.5 274.38 615.5 273.79 617.5 273.20 619.5 272.59 621.5 271.99 623.5 271.37 625.5 270.76 627.5 270.13 629.5 269.50 631.5 268.86 633.5 268.22 635.5 267.57 637.5 266.92 639.5 266.25 641.5 265.59 643.5 264.91 645.5 264.23 647.5 263.54 649.5 262.85 651.5 262.15 653.5 261.45 655.5 260.73 657.5 260.01 659.5 259.29 661.5 258.56 663.5 257.82 665.5 257.07 667.5 256.32 669.5 255.56 671.5 254.79 673.5 254.01 675.5 253.23 677.5 252.45 679.5 251.65 681.5 250.85 683.5 250.04 685.5 249.23 687.5 248.41 689.5 247.58 691.5 246.75 693.5 245.91 695.5 245.07 697.5 244.22 699.5 243.37 701.5 242.50 703.5 241.64 705.5 240.77 707.5 239.89 709.5 239.01 711.5 238.12 713.5 237.23 715.5 236.33 717.5 235.43 719.5 234.52 721.5 233.61 723.5 232.70 725.5 231.78 727.5 230.85 729.5 229.92 731.5 228.99 733.5 228.06 735.5 227.11 737.5 226.17 739.5 225.22 741.5 224.27 743.5 223.32 745.5 222.36 747.5 221.39 749.5 220.43 751.5 219.46 753.5 218.49 755.5 217.52 757.5 216.54 759.5 215.56 761.5 214.58 763.5 213.60 765.5 212.62 767.5 211.63 769.5 210.65 771.5 209.67 773.5 208.68 775.5 207.70 777.5 206.72 779.5 205.74 781.5 204.76 783.5 203.78 785.5 202.80 787.5 201.83 789.5 200.85 791.5 199.88 793.5 198.92 795.5 197.96 797.5 197.00 799.5 196.04 801.5 195.09 803.5 194.15 805.5 193.21 807.5 192.27 809.5 191.34 811.5 190.42 813.5 189.50 815.5 188.59 817.5 187.69 819.5 186.81 821.5 185.93 823.5 185.07 825.5 184.23 827.5 183.41 829.5 182.60 831.5 181.82 833.5 181.06 835.5 180.32 837.5 179.60 839.5 178.92 841.5 178.26 843.5 177.63 845.5 177.04 847.5 176.48 849.5 175.95 851.5 175.46 853.5 175.01 855.5 174.60 857.5 174.24 859.5 173.94 861.5 173.69 863.5 173.50 865.5 173.39 867.5 173.34 869.5 173.37 871.5 173.48 873.5 173.67 874.0 173.73" stroke="#ff0000" stroke-width="2.5" />
<path d="M121.5 408.26 123.5 408.28 125.5 408.30 127.5 408.32 129.5 408.33 131.5 408.35 133.5 408.37 135.5 408.39 137.5 408.40 139.5 408.42 141.5 408.44 143.5 408.46 145.5 408.47 147.5 408.49 149.5 408.50 151.5 408.52 153.5 408.54 155.5 408.55 157.5 408.57 159.5 408.58 161.5 408.60 163.5 408.61 165.5 408.63 167.5 408.64 169.5 408.66 171.5 408.67 173.5 408.68 175.5 408.70 177.5 408.71 179.5 408.72 181.5 408.74 183.5 408.75 185.5 408.76 187.5 408.78 189.5 408.79 191.5 408.80 193.5 408.81 195.5 408.82 197.5 408.84 199.5 408.85 201.5 408.86 203.5 408.87 205.5 408.88 207.5 408.89 209.5 408.90 211.5 408.91 213.5 408.92 215.5 408.93 217.5 408.94 219.5 408.95 221.5 408.96 223.5 408.97 225.5 408.98 227.5 408.99 229.5 409.00 231.5 409.01 233.5 409.01 235.5 409.02 237.5 409.03 239.5 409.04 241.5 409.05 243.5 409.05 245.5 409.06 247.5 409.07 249.5 409.08 251.5 409.09 253.5 409.10 255.5 409.10 257.5 409.11 259.5 409.12 261.5 409.13 263.5 409.14 265.5 409.15 267.5 409.16 269.5 409.17 271.5 409.19 273.5 409.20 275.5 409.21 277.5 409.22 279.5 409.24 281.5 409.25 283.5 409.27 285.5 409.28 287.5 409.30 289.5 409.32 291.5 409.33 293.5 409.35 295.5 409.37 297.5 409.39 299.5 409.41 301.5 409.44 303.5 409.46 305.5 409.49 307.5 409.51 309.5 409.54 311.5 409.57 313.5 409.59 315.5 409.63 317.5 409.66 319.5 409.69 321.5 409.72 323.5 409.76 325.5 409.80 327.5 409.83 329.5 409.87 331.5 409.91 333.5 409.96 335.5 410.00 337.5 410.05 339.5 410.09 341.5 410.14 343.5 410.19 345.5 410.25 347.5 410.30 349.5 410.36 351.5 410.41 353.5 410.47 355.5 410.54 357.5 410.60 359.5 410.67 361.5 410.74 363.5 410.81 365.5 410.88 367.5 410.95 369.5 411.03 371.5 411.11 373.5 411.20 375.5 411.28 377.5 411.37 379.5 411.46 381.5 411.56 383.5 411.65 385.5 411.75 387.5 411.86 389.5 411.96 391.5 412.07 393.5 412.18 395.5 412.30 397.5 412.42 399.5 412.54 401.5 412.66 403.5 412.79 405.5 412.93 407.5 413.06 409.5 413.20 411.5 413.35 413.5 413.49 415.5 413.64 417.5 413.80 419.5 413.96 421.5 414.12 423.5 414.29 425.5 414.46 427.5 414.64 429.5 414.82 431.5 415.00 433.5 415.19 435.5 415.38 437.5 415.58 439.5 415.78 441.5 415.99 443.5 416.20 445.5 416.41 447.5 416.63 449.5 416.86 451.5 417.09 453.5 417.32 455.5 417.56 457.5 417.81 459.5 418.06 461.5 418.31 463.5 418.58 465.5 418.84 467.5 419.11 469.5 419.39 471.5 419.67 473.5 419.96 475.5 420.25 477.5 420.55 479.5 420.85 481.5 421.16 483.5 421.48 485.5 421.80 487.5 422.12 489.5 422.46 491.5 422.79 493.5 423.14 495.5 423.49 497.5 423.85 499.5 424.21 501.5 424.58 503.5 424.95 505.5 425.33 507.5 425.72 509.5 426.11 511.5 426.52 513.5 426.92 515.5 427.34 517.5 427.76 519.5 428.18 521.5 428.62 523.5 429.06 525.5 429.51 527.5 429.96 529.5 430.42 531.5 430.89 533.5 431.37 535.5 431.85 537.5 432.34 539.5 432.84 541.5 433.35 543.5 433.86 545.5 434.38 547.5 434.91 549.5 435.45 551.5 435.99 553.5 436.54 555.5 437.11 557.5 437.68 559.5 438.25 561.5 438.84 563.5 439.43 565.5 440.03 567.5 440.65 569.5 441.27 571.5 441.89 573.5 442.53 575.5 443.18 577.5 443.83 579.5 444.50 581.5 445.17 583.5 445.85 585.5 446.54 587.5 447.24 589.5 447.95 591.5 448.67 593.5 449.40 595.5 450.14 597.5 450.88 599.5 451.64 601.5 452.41 603.5 453.18 605.5 453.97 607.5 454.77 609.5 455.57 611.5 456.38 613.5 457.21 615.5 458.04 617.5 458.89 619.5 459.74 621.5 460.60 623.5 461.47 625.5 462.36 627.5 463.25 629.5 464.15 631.5 465.06 633.5 465.98 635.5 466.91 637.5 467.85 639.5 468.80 641.5 469.77 643.5 470.74 645.5 471.72 647.5 472.71 649.5 473.71 651.5 474.72 653.5 475.74 655.5 476.77 657.5 477.81 659.5 478.86 661.5 479.92 663.5 480.99 665.5 482.07 667.5 483.16 669.5 484.26 671.5 485.37 673.5 486.49 675.5 487.62 677.5 488.76 679.5 489.91 681.5 491.07 683.5 492.23 685.5 493.41 687.5 494.60 689.5 495.79 691.5 497.00 693.5 498.21 695.5 499.43 697.5 500.66 699.5 501.90 701.5 503.15 703.5 504.40 705.5 505.66 707.5 506.93 709.5 508.21 711.5 509.49 713.5 510.79 715.5 512.08 717.5 513.39 719.5 514.70 721.5 516.02 723.5 517.35 725.5 518.68 727.5 520.02 729.5 521.36 731.5 522.72 733.5 524.07 735.5 525.43 737.5 526.80 739.5 528.18 741.5 529.56 743.5 530.94 745.5 532.33 747.5 533.72 749.5 535.12 751.5 536.53 753.5 537.93 755.5 539.34 757.5 540.76 759.5 542.18 761.5 543.60 763.5 545.02 765.5 546.44 767.5 547.86 769.5 549.28 771.5 550.70 773.5 552.12 775.5 553.54 777.5 554.96 779.5 556.37 781.5 557.79 783.5 559.19 785.5 560.59 787.5 561.99 789.5 563.39 791.5 564.77 793.5 566.15 795.5 567.53 797.5 568.89 799.5 570.25 801.5 571.60 803.5 572.94 805.5 574.27 807.5 575.59 809.5 576.90 811.5 578.20 813.5 579.49 815.5 580.76 817.5 582.02 819.5 583.27 821.5 584.50 823.5 585.71 825.5 586.91 827.5 588.09 829.5 589.26 831.5 590.40 833.5 591.53 835.5 592.63 837.5 593.71 839.5 594.77 841.5 595.81 843.5 596.83 845.5 597.82 847.5 598.78 849.5 599.72 851.5 600.64 853.5 601.52 855.5 602.37 857.5 603.18 859.5 603.95 861.5 604.68 863.5 605.36 865.5 605.99 867.5 606.56 869.5 607.07 871.5 607.51 873.5 607.89 874.0 607.98" stroke="#00ff00" stroke-width="2.5" />
<path d="M121.5 419.41 123.5 419.40 125.5 419.40 127.5 419.40 129.5 419.39 131.5 419.39 133.5 419.39 135.5 419.39 137.5 419.39 139.5 419.38 141.5 419.38 143.5 419.38 145.5 419.38 147.5 419.37 149.5 419.37 151.5 419.37 153.5 419.37 155.5 419.37 157.5 419.37 159.5 419.37 161.5 419.36 163.5 419.36 165.5 419.36 167.5 419.36 169.5 419.36 171.5 419.36 173.5 419.36 175.5 419.36 177.5 419.36 179.5 419.36 181.5 419.36 183.5 419.36 185.5 419.36 187.5 419.36 189.5 419.36 191.5 419.36 193.5 419.36 195.5 419.37 197.5 419.37 199.5 419.37 201.5 419.37 203.5 419.37 205.5 419.38 207.5 419.38 209.5 419.38 211.5 419.38 213.5 419.39 215.5 419.39 217.5 419.39 219.5 419.40 221.5 419.40 223.5 419.40 225.5 419.41 227.5 419.41 229.5 419.42 231.5 419.42 233.5 419.43 235.5 419.43 237.5 419.44 239.5 419.44 241.5 419.45 243.5 419.46 245.5 419.46 247.5 419.47 249.5 419.48 251.5 419.49 253.5 419.49 255.5 419.50 257.5 419.51 259.5 419.52 261.5 419.53 263.5 419.54 265.5 419.55 267.5 419.56 269.5 419.57 271.5 419.58 273.5 419.59 275.5 419.60 277.5 419.61 279.5 419.62 281.5 419.63 283.5 419.65 285.5 419.66 287.5 419.67 289.5 419.69 291.5 419.70 293.5 419.72 295.5 419.73 297.5 419.75 299.5 419.76 301.5 419.78 303.5 419.80 305.5 419.82 307.5 419.84 309.5 419.85 311.5 419.87 313.5 419.89 315.5 419.91 317.5 419.94 319.5 419.96 321.5 419.98 323.5 420.00 325.5 420.03 327.5 420.05 329.5 420.07 331.5 420.10 333.5 420.13 335.5 420.15 337.5 420.18 339.5 420.21 341.5 420.24 343.5 420.27 345.5 420.30 347.5 420.33 349.5 420.36 351.5 420.39 353.5 420.42 355.5 420.46 357.5 420.49 359.5 420.53 361.5 420.56 363.5 420.60 365.5 420.64 367.5 420.67 369.5 420.71 371.5 420.75 373.5 420.79 375.5 420.83 377.5 420.88 379.5 420.92 381.5 420.96 383.5 421.01 385.5 421.05 387.5 421.10 389.5 421.15 391.5 421.20 393.5 421.25 395.5 421.30 397.5 421.35 399.5 421.40 401.5 421.45 403.5 421.51 405.5 421.57 407.5 421.62 409.5 421.68 411.5 421.74 413.5 421.80 415.5 421.86 417.5 421.93 419.5 421.99 421.5 422.05 423.5 422.12 425.5 422.19 427.5 422.26 429.5 422.33 431.5 422.40 433.5 422.48 435.5 422.55 437.5 422.63 439.5 422.71 441.5 422.78 443.5 422.87 445.5 422.95 447.5 423.03 449.5 423.12 451.5 423.20 453.5 423.29 455.5 423.38 457.5 423.48 459.5 423.57 461.5 423.67 463.5 423.76 465.5 423.86 467.5 423.96 469.5 424.06 471.5 424.17 473.5 424.27 475.5 424.38 477.5 424.49 479.5 424.60 481.5 424.72 483.5 424.83 485.5 424.95 487.5 425.07 489.5 425.19 491.5 425.32 493.5 425.44 495.5 425.57 497.5 425.70 499.5 425.83 501.5 425.96 503.5 426.10 505.5 426.23 507.5 426.37 509.5 426.51 511.5 426.66 513.5 426.80 515.5 426.95 517.5 427.10 519.5 427.25 521.5 427.40 523.5 427.55 525.5 427.71 527.5 427.86 529.5 428.02 531.5 428.18 533.5 428.34 535.5 428.51 537.5 428.67 539.5 428.84 541.5 429.01 543.5 429.18 545.5 429.35 547.5 429.52 549.5 429.70 551.5 429.87 553.5 430.05 555.5 430.23 557.5 430.41 559.5 430.59 561.5 430.77 563.5 430.96 565.5 431.14 567.5 431.33 569.5 431.52 571.5 431.71 573.5 431.90 575.5 432.09 577.5 432.28 579.5 432.48 581.5 432.67 583.5 432.87 585.5 433.07 587.5 433.27 589.5 433.47 591.5 433.67 593.5 433.87 595.5 434.08 597.5 434.28 599.5 434.49 601.5 434.69 603.5 434.90 605.5 435.11 607.5 435.32 609.5 435.53 611.5 435.74 613.5 435.95 615.5 436.17 617.5 436.38 619.5 436.60 621.5 436.81 623.5 437.03 625.5 437.25 627.5 437.47 629.5 437.70 631.5 437.92 633.5 438.14 635.5 438.37 637.5 438.60 639.5 438.83 641.5 439.06 643.5 439.29 645.5 439.53 647.5 439.76 649.5 440.00 651.5 440.24 653.5 440.48 655.5 440.73 657.5 440.97 659.5 441.22 661.5 441.47 663.5 441.72 665.5 441.98 667.5 442.23 669.5 442.49 671.5 442.75 673.5 443.02 675.5 443.28 677.5 443.55 679.5 443.82 681.5 444.10 683.5 444.37 685.5 444.65 687.5 444.93 689.5 445.22 691.5 445.50 693.5 445.79 695.5 446.09 697.5 446.38 699.5 446.68 701.5 446.98 703.5 447.29 705.5 447.60 707.5 447.91 709.5 448.22 711.5 448.54 713.5 448.86 715.5 449.19 717.5 449.52 719.5 449.85 721.5 450.18 723.5 450.52 725.5 450.86 727.5 451.21 729.5 451.56 731.5 451.91 733.5 452.27 735.5 452.63 737.5 453.00 739.5 453.36 741.5 453.73 743.5 454.11 745.5 454.48 747.5 454.86 749.5 455.25 751.5 455.63 753.5 456.02 755.5 456.40 757.5 456.80 759.5 457.19 761.5 457.58 763.5 457.98 765.5 458.38 767.5 458.78 769.5 459.18 771.5 459.58 773.5 459.98 775.5 460.38 777.5 460.79 779.5 461.19 781.5 461.60 783.5 462.00 785.5 462.41 787.5 462.82 789.5 463.22 791.5 463.63 793.5 464.03 795.5 464.44 797.5 464.84 799.5 465.24 801.5 465.65 803.5 466.05 805.5 466.45 807.5 466.85 809.5 467.24 811.5 467.64 813.5 468.03 815.5 468.43 817.5 468.82 819.5 469.20 821.5 469.59 823.5 469.97 825.5 470.36 827.5 470.73 829.5 471.11 831.5 471.49 833.5 471.86 835.5 472.23 837.5 472.61 839.5 472.97 841.5 473.34 843.5 473.71 845.5 474.07 847.5 474.44 849.5 474.80 851.5 475.16 853.5 475.52 855.5 475.88 857.5 476.24 859.5 476.60 861.5 476.96 863.5 477.32 865.5 477.67 867.5 478.03 869.5 478.39 871.5 478.74 873.5 479.10 874.0 479.19" stroke="#0000ff" stroke-width="2.5" />
<path d="M121.5 386.15 123.5 386.13 125.5 386.10 127.5 386.08 129.5 386.06 131.5 386.04 133.5 386.02 135.5 386.00 137.5 385.98 139.5 385.96 141.5 385.94 143.5 385.93 145.5 385.91 147.5 385.90 149.5 385.88 151.5 385.87 153.5 385.86 155.5 385.84 157.5 385.83 159.5 385.82 161.5 385.81 163.5 385.80 165.5 385.80 167.5 385.79 169.5 385.78 171.5 385.77 173.5 385.77 175.5 385.76 177.5 385.76 179.5 385.75 181.5 385.75 183.5 385.75 185.5 385.75 187.5 385.74 189.5 385.74 191.5 385.74 193.5 385.74 195.5 385.74 197.5 385.74 199.5 385.75 201.5 385.75 203.5 385.75 205.5 385.75 207.5 385.76 209.5 385.76 211.5 385.76 213.5 385.77 215.5 385.77 217.5 385.78 219.5 385.79 221.5 385.79 223.5 385.80 225.5 385.81 227.5 385.82 229.5 385.82 231.5 385.83 233.5 385.84 235.5 385.85 237.5 385.86 239.5 385.87 241.5 385.88 243.5 385.89 245.5 385.90 247.5 385.91 249.5 385.92 251.5 385.94 253.5 385.95 255.5 385.96 257.5 385.97 259.5 385.99 261.5 386.00 263.5 386.01 265.5 386.02 267.5 386.04 269.5 386.05 271.5 386.07 273.5 386.08 275.5 386.09 277.5 386.11 279.5 386.12 281.5 386.14 283.5 386.15 285.5 386.17 287.5 386.18 289.5 386.20 291.5 386.21 293.5 386.23 295.5 386.24 297.5 386.26 299.5 386.27 301.5 386.29 303.5 386.31 305.5 386.32 307.5 386.34 309.5 386.35 311.5 386.37 313.5 386.38 315.5 386.40 317.5 386.42 319.5 386.43 321.5 386.45 323.5 386.47 325.5 386.48 327.5 386.50 329.5 386.51 331.5 386.53 333.5 386.55 335.5 386.56 337.5 386.58 339.5 386.60 341.5 386.62 343.5 386.63 345.5 386.65 347.5 386.67 349.5 386.69 351.5 386.70 353.5 386.72 355.5 386.74 357.5 386.76 359.5 386.78 361.5 386.79 363.5 386.81 365.5 386.83 367.5 386.85 369.5 386.87 371.5 386.89 373.5 386.91 375.5 386.93 377.5 386.95 379.5 386.97 381.5 386.99 383.5 387.01 385.5 387.03 387.5 387.05 389.5 387.07 391.5 387.09 393.5 387.12 395.5 387.14 397.5 387.16 399.5 387.18 401.5 387.20 403.5 387.23 405.5 387.25 407.5 387.27 409.5 387.30 411.5 387.32 413.5 387.34 415.5 387.37 417.5 387.39 419.5 387.42 421.5 387.44 423.5 387.47 425.5 387.49 427.5 387.52 429.5 387.54 431.5 387.57 433.5 387.60 435.5 387.62 437.5 387.65 439.5 387.68 441.5 387.71 443.5 387.74 445.5 387.76 447.5 387.79 449.5 387.82 451.5 387.85 453.5 387.88 455.5 387.91 457.5 387.94 459.5 387.97 461.5 388.00 463.5 388.04 465.5 388.07 467.5 388.10 469.5 388.13 471.5 388.17 473.5 388.20 475.5 388.23 477.5 388.27 479.5 388.30 481.5 388.34 483.5 388.37 485.5 388.41 487.5 388.44 489.5 388.48 491.5 388.52 493.5 388.56 495.5 388.59 497.5 388.63 499.5 388.67 501.5 388.71 503.5 388.75 505.5 388.79 507.5 388.83 509.5 388.87 511.5 388.91 513.5 388.95 515.5 388.99 517.5 389.04 519.5 389.08 521.5 389.12 523.5 389.17 525.5 389.21 527.5 389.26 529.5 389.30 531.5 389.35 533.5 389.39 535.5 389.44 537.5 389.49 539.5 389.53 541.5 389.58 543.5 389.63 545.5 389.68 547.5 389.73 549.5 389.78 551.5 389.83 553.5 389.88 555.5 389.93 557.5 389.98 559.5 390.04 561.5 390.09 563.5 390.14 565.5 390.20 567.5 390.25 569.5 390.31 571.5 390.36 573.5 390.42 575.5 390.47 577.5 390.53 579.5 390.59 581.5 390.64 583.5 390.70 585.5 390.76 587.5 390.82 589.5 390.88 591.5 390.94 593.5 391.00 595.5 391.06 597.5 391.13 599.5 391.19 601.5 391.25 603.5 391.32 605.5 391.38 607.5 391.44 609.5 391.51 611.5 391.58 613.5 391.64 615.5 391.71 617.5 391.78 619.5 391.84 621.5 391.91 623.5 391.98 625.5 392.05 627.5 392.12 629.5 392.19 631.5 392.26 633.5 392.34 635.5 392.41 637.5 392.48 639.5 392.55 641.5 392.63 643.5 392.70 645.5 392.78 647.5 392.85 649.5 392.93 651.5 393.01 653.5 393.09 655.5 393.16 657.5 393.24 659.5 393.32 661.5 393.40 663.5 393.48 665.5 393.57 667.5 393.65 669.5 393.73 671.5 393.81 673.5 393.90 675.5 393.98 677.5 394.07 679.5 394.15 681.5 394.24 683.5 394.33 685.5 394.42 687.5 394.51 689.5 394.59 691.5 394.69 693.5 394.78 695.5 394.87 697.5 394.96 699.5 395.05 701.5 395.15 703.5 395.24 705.5 395.34 707.5 395.44 709.5 395.53 711.5 395.63 713.5 395.73 715.5 395.83 717.5 395.93 719.5 396.03 721.5 396.13 723.5 396.24 725.5 396.34 727.5 396.45 729.5 396.55 731.5 396.66 733.5 396.77 735.5 396.88 737.5 396.99 739.5 397.10 741.5 397.21 743.5 397.32 745.5 397.43 747.5 397.55 749.5 397.66 751.5 397.78 753.5 397.89 755.5 398.01 757.5 398.13 759.5 398.25 761.5 398.37 763.5 398.49 765.5 398.62 767.5 398.74 769.5 398.87 771.5 398.99 773.5 399.12 775.5 399.25 777.5 399.38 779.5 399.51 781.5 399.64 783.5 399.77 785.5 399.90 787.5 400.04 789.5 400.17 791.5 400.31 793.5 400.44 795.5 400.58 797.5 400.71 799.5 400.85 801.5 400.98 803.5 401.11 805.5 401.25 807.5 401.38 809.5 401.51 811.5 401.64 813.5 401.77 815.5 401.90 817.5 402.03 819.5 402.16 821.5 402.28 823.5 402.40 825.5 402.52 827.5 402.64 829.5 402.75 831.5 402.87 833.5 402.98 835.5 403.08 837.5 403.19 839.5 403.29 841.5 403.39 843.5 403.48 845.5 403.58 847.5 403.66 849.5 403.75 851.5 403.83 853.5 403.91 855.5 403.98 857.5 404.05 859.5 404.11 861.5 404.17 863.5 404.22 865.5 404.27 867.5 404.32 869.5 404.36 871.5 404.39 873.5 404.42 874.0 404.43" stroke="#00ffff" stroke-width="2.5" />
<path d="M121.5 382.15 123.5 382.18 125.5 382.21 127.5 382.23 129.5 382.26 131.5 382.28 133.5 382.30 135.5 382.32 137.5 382.34 139.5 382.36 141.5 382.37 143.5 382.39 145.5 382.40 147.5 382.42 149.5 382.43 151.5 382.44 153.5 382.45 155.5 382.46 157.5 382.46 159.5 382.47 161.5 382.47 163.5 382.48 165.5 382.48 167.5 382.49 169.5 382.49 171.5 382.49 173.5 382.49 175.5 382.49 177.5 382.49 179.5 382.49 181.5 382.49 183.5 382.49 185.5 382.49 187.5 382.49 189.5 382.48 191.5 382.48 193.5 382.48 195.5 382.47 197.5 382.47 199.5 382.47 201.5 382.46 203.5 382.46 205.5 382.45 207.5 382.45 209.5 382.45 211.5 382.44 213.5 382.44 215.5 382.43 217.5 382.43 219.5 382.43 221.5 382.42 223.5 382.42 225.5 382.42 227.5 382.42 229.5 382.42 231.5 382.41 233.5 382.41 235.5 382.41 237.5 382.41 239.5 382.42 241.5 382.42 243.5 382.42 245.5 382.42 247.5 382.43 249.5 382.43 251.5 382.44 253.5 382.44 255.5 382.45 257.5 382.46 259.5 382.47 261.5 382.48 263.5 382.49 265.5 382.50 267.5 382.51 269.5 382.52 271.5 382.54 273.5 382.55 275.5 382.56 277.5 382.58 279.5 382.60 281.5 382.61 283.5 382.63 285.5 382.65 287.5 382.67 289.5 382.69 291.5 382.70 293.5 382.73 295.5 382.75 297.5 382.77 299.5 382.79 301.5 382.81 303.5 382.83 305.5 382.86 307.5 382.88 309.5 382.91 311.5 382.93 313.5 382.96 315.5 382.98 317.5 383.01 319.5 383.03 321.5 383.06 323.5 383.09 325.5 383.11 327.5 383.14 329.5 383.17 331.5 383.20 333.5 383.23 335.5 383.26 337.5 383.29 339.5 383.31 341.5 383.34 343.5 383.37 345.5 383.40 347.5 383.44 349.5 383.47 351.5 383.50 353.5 383.53 355.5 383.56 357.5 383.59 359.5 383.62 361.5 383.65 363.5 383.68 365.5 383.71 367.5 383.75 369.5 383.78 371.5 383.81 373.5 383.84 375.5 383.87 377.5 383.90 379.5 383.94 381.5 383.97 383.5 384.00 385.5 384.03 387.5 384.06 389.5 384.09 391.5 384.12 393.5 384.16 395.5 384.19 397.5 384.22 399.5 384.25 401.5 384.28 403.5 384.31 405.5 384.34 407.5 384.37 409.5 384.40 411.5 384.43 413.5 384.46 415.5 384.49 417.5 384.51 419.5 384.54 421.5 384.57 423.5 384.60 425.5 384.63 427.5 384.65 429.5 384.68 431.5 384.71 433.5 384.73 435.5 384.76 437.5 384.78 439.5 384.81 441.5 384.83 443.5 384.86 445.5 384.88 447.5 384.90 449.5 384.92 451.5 384.95 453.5 384.97 455.5 384.99 457.5 385.01 459.5 385.03 461.5 385.05 463.5 385.07 465.5 385.09 467.5 385.10 469.5 385.12 471.5 385.14 473.5 385.15 475.5 385.17 477.5 385.18 479.5 385.20 481.5 385.21 483.5 385.22 485.5 385.23 487.5 385.24 489.5 385.25 491.5 385.26 493.5 385.27 495.5 385.28 497.5 385.29 499.5 385.29 501.5 385.30 503.5 385.30 505.5 385.31 507.5 385.31 509.5 385.31 511.5 385.31 513.5 385.31 515.5 385.31 517.5 385.31 519.5 385.31 521.5 385.31 523.5 385.30 525.5 385.30 527.5 385.29 529.5 385.28 531.5 385.27 533.5 385.27 535.5 385.26 537.5 385.25 539.5 385.24 541.5 385.22 543.5 385.21 545.5 385.20 547.5 385.18 549.5 385.17 551.5 385.15 553.5 385.14 555.5 385.12 557.5 385.10 559.5 385.09 561.5 385.07 563.5 385.05 565.5 385.03 567.5 385.01 569.5 384.99 571.5 384.97 573.5 384.95 575.5 384.92 577.5 384.90 579.5 384.88 581.5 384.85 583.5 384.83 585.5 384.81 587.5 384.78 589.5 384.76 591.5 384.73 593.5 384.71 595.5 384.68 597.5 384.66 599.5 384.63 601.5 384.61 603.5 384.58 605.5 384.55 607.5 384.53 609.5 384.50 611.5 384.47 613.5 384.45 615.5 384.42 617.5 384.39 619.5 384.37 621.5 384.34 623.5 384.31 625.5 384.28 627.5 384.26 629.5 384.23 631.5 384.20 633.5 384.18 635.5 384.15 637.5 384.12 639.5 384.10 641.5 384.07 643.5 384.05 645.5 384.02 647.5 383.99 649.5 383.97 651.5 383.94 653.5 383.92 655.5 383.90 657.5 383.87 659.5 383.85 661.5 383.83 663.5 383.81 665.5 383.79 667.5 383.77 669.5 383.75 671.5 383.73 673.5 383.71 675.5 383.69 677.5 383.68 679.5 383.66 681.5 383.65 683.5 383.63 685.5 383.62 687.5 383.61 689.5 383.60 691.5 383.59 693.5 383.59 695.5 383.58 697.5 383.58 699.5 383.57 701.5 383.57 703.5 383.57 705.5 383.57 707.5 383.58 709.5 383.58 711.5 383.59 713.5 383.59 715.5 383.60 717.5 383.61 719.5 383.63 721.5 383.64 723.5 383.66 725.5 383.68 727.5 383.70 729.5 383.72 731.5 383.74 733.5 383.77 735.5 383.80 737.5 383.83 739.5 383.86 741.5 383.90 743.5 383.94 745.5 383.98 747.5 384.02 749.5 384.07 751.5 384.11 753.5 384.16 755.5 384.22 757.5 384.27 759.5 384.33 761.5 384.39 763.5 384.46 765.5 384.53 767.5 384.60 769.5 384.67 771.5 384.75 773.5 384.83 775.5 384.92 777.5 385.00 779.5 385.09 781.5 385.19 783.5 385.29 785.5 385.39 787.5 385.50 789.5 385.61 791.5 385.72 793.5 385.84 795.5 385.97 797.5 386.09 799.5 386.22 801.5 386.36 803.5 386.50 805.5 386.64 807.5 386.79 809.5 386.95 811.5 387.11 813.5 387.27 815.5 387.44 817.5 387.61 819.5 387.79 821.5 387.97 823.5 388.16 825.5 388.35 827.5 388.55 829.5 388.75 831.5 388.95 833.5 389.16 835.5 389.36 837.5 389.57 839.5 389.78 841.5 389.99 843.5 390.20 845.5 390.41 847.5 390.62 849.5 390.83 851.5 391.04 853.5 391.24 855.5 391.44 857.5 391.64 859.5 391.83 861.5 392.03 863.5 392.21 865.5 392.39 867.5 392.57 869.5 392.74 871.5 392.90 873.5 393.06 874.0 393.10" stroke="#ff00ff" stroke-width="2.5" />
<path d="M91.84 135.49 91.06 135.49 89.48 134.72 88.70 133.96 87.92 132.43 87.92 129.37 88.70 127.84 89.48 127.07 91.06 126.31 92.62 126.31 94.20 127.07 96.55 128.60 104.40 136.25 104.40 125.54" stroke="#000" stroke-width="1.45" />
<path d="M91.06 261.01 90.27 259.48 87.92 257.19 104.40 257.19" stroke="#000" stroke-width="1.45" />
<path d="M94.98 390.36 91.06 389.59 88.70 388.06 87.92 385.76 87.92 384.24 88.70 381.94 91.06 380.41 94.98 379.64 97.34 379.64 101.26 380.41 103.62 381.94 104.40 384.24 104.40 385.76 103.62 388.06 101.26 389.59 97.34 390.36 94.98 390.36" stroke="#000" stroke-width="1.45" />
<path d="M97.34 526.58 97.34 512.81M91.06 505.16 90.27 503.63 87.92 501.34 104.40 501.34" stroke="#000" stroke-width="1.45" />
<path d="M97.34 653.63 97.34 639.87M91.84 633.75 91.06 633.75 89.48 632.98 88.70 632.22 87.92 630.69 87.92 627.62 88.70 626.10 89.48 625.33 91.06 624.57 92.62 624.57 94.20 625.33 96.55 626.86 104.40 634.51 104.40 623.80" stroke="#000" stroke-width="1.45" />
<path d="M96.96 659.74 97.73 655.84 99.27 653.50 101.58 652.72 103.12 652.72 105.43 653.50 106.97 655.84 107.74 659.74 107.74 662.08 106.97 665.98 105.43 668.32 103.12 669.10 101.58 669.10 99.27 668.32 97.73 665.98 96.96 662.08 96.96 659.74M113.13 668.32 113.90 669.10 114.67 668.32 113.90 667.54 113.13 668.32M120.06 659.74 120.83 655.84 122.37 653.50 124.68 652.72 126.22 652.72 128.53 653.50 130.07 655.84 130.84 659.74 130.84 662.08 130.07 665.98 128.53 668.32 126.22 669.10 124.68 669.10 122.37 668.32 120.83 665.98 120.06 662.08 120.06 659.74M137.77 655.84 139.31 655.06 141.62 652.72 141.62 669.10" stroke="#000" stroke-width="1.45" />
<path d="M481.36 659.74 482.13 655.84 483.67 653.50 485.98 652.72 487.52 652.72 489.83 653.50 491.37 655.84 492.14 659.74 492.14 662.08 491.37 665.98 489.83 668.32 487.52 669.10 485.98 669.10 483.67 668.32 482.13 665.98 481.36 662.08 481.36 659.74M497.53 668.32 498.30 669.10 499.07 668.32 498.30 667.54 497.53 668.32M506.77 655.84 508.31 655.06 510.62 652.72 510.62 669.10" stroke="#000" stroke-width="1.45" />
<path d="M871.92 655.84 873.46 655.06 875.77 652.72 875.77 669.10" stroke="#000" stroke-width="1.45" />
<path d="M452.85 718.35 447.46 712.23M444.38 702.28 444.38 715.29M444.38 702.28 444.38 718.35 444.38 715.29M444.38 715.29 447.46 712.23M444.38 715.29 452.08 707.64 447.46 712.23M475.18 699.23 469.79 699.23 469.79 723.71 475.18 723.71M480.57 718.35 480.57 702.28 486.73 718.35 492.89 702.28 492.89 718.35M499.05 707.64 499.05 723.71 499.05 716.06M499.05 707.64 499.05 709.94M499.05 709.94 500.59 708.40 502.13 707.64 504.44 707.64 505.98 708.40 507.52 709.94 508.29 712.23 508.29 713.76 507.52 716.06 505.98 717.59 504.44 718.35 502.13 718.35 500.59 717.59 499.05 716.06M499.05 709.94 499.05 716.06M522.15 709.94 520.61 708.40 519.07 707.64 516.76 707.64 515.22 708.40 513.68 709.94 512.91 712.23 512.91 713.76 513.68 716.06 515.22 717.59 516.76 718.35 519.07 718.35 520.61 717.59 522.15 716.06M526.74 700.40 537.00 700.40M542.69 695.87 543.83 695.31 545.54 693.61 545.54 705.50M552.98 699.23 558.37 699.23 558.37 723.71 552.98 723.71" stroke="#000" stroke-width="1.45" />
<path d="M54.00 437.32 52.58 436.47 51.68 435.27 51.45 434.00 51.60 432.45 52.05 431.18 53.10 430.19 54.45 429.69 56.70 429.56 58.58 429.63 60.83 429.98 63.23 430.62 64.80 431.39 66.08 432.31 66.90 433.51 67.20 434.85 66.90 436.33 66.08 437.74 64.73 438.52 63.23 438.80 61.43 438.73 59.70 438.31 58.35 437.39 57.38 436.33 56.93 435.27 56.85 434.28 57.23 432.94 57.98 431.74 59.33 430.82 61.20 430.12M51.45 424.23 67.20 424.23M61.20 418.86 62.70 418.86 64.95 418.09 66.45 416.56 67.20 415.02 67.20 412.72 66.45 411.19 64.95 409.65 62.70 408.89 61.20 408.89 58.95 409.65 57.45 411.19 56.70 412.72 56.70 415.02 57.45 416.56 58.95 418.09 61.20 418.86M71.70 401.98 72.45 400.45 72.45 398.15 71.70 396.61 70.95 395.85 68.70 395.08M61.20 404.28 62.70 404.28 64.95 403.52 66.45 401.98 67.20 400.45 67.20 398.15 66.45 396.61 64.95 395.08M61.20 404.28 58.95 403.52 57.45 401.98 56.70 400.45 56.70 398.15 57.45 396.61 58.95 395.08M56.70 395.08 58.95 395.08M56.70 395.08 68.70 395.08M58.95 395.08 64.95 395.08M64.95 395.08 68.70 395.08M51.45 388.94 59.70 388.94M51.45 388.94 67.20 388.94 59.70 388.94M51.45 388.94 51.45 382.04 52.20 379.74 52.95 378.97 54.45 378.21 56.70 378.21 58.20 378.97 58.95 379.74 59.70 382.04 59.70 388.94M72.45 374.37 48.45 360.57M54.00 355.25 52.58 354.40 51.68 353.20 51.45 351.93 51.60 350.38 52.05 349.11 53.10 348.12 54.45 347.63 56.70 347.49 58.58 347.56 60.83 347.91 63.23 348.55 64.80 349.32 66.08 350.24 66.90 351.44 67.20 352.78 66.90 354.26 66.08 355.67 64.73 356.45 63.23 356.73 61.43 356.66 59.70 356.24 58.35 355.32 57.38 354.26 56.93 353.20 56.85 352.21 57.23 350.87 57.98 349.67 59.33 348.75 61.20 348.05M59.33 335.83 57.57 335.41 55.91 335.18 54.41 335.15 53.17 335.33 52.23 335.71 51.65 336.27 51.45 336.99 51.65 337.81 52.23 338.71 53.17 339.64 54.41 340.55 55.91 341.40 57.57 342.13 59.33 342.73 61.08 343.15 62.75 343.38 64.24 343.41 65.48 343.23 66.42 342.85 67.01 342.29 67.20 341.57 67.01 340.75 66.42 339.85 65.48 338.92 64.24 338.02 62.75 337.16 61.08 336.43 59.33 335.83M59.33 342.69 59.33 335.87M68.27 330.59 75.83 330.59M64.48 331.14 65.03 330.59 64.48 330.04 63.95 330.59 64.48 331.14" stroke="#000" stroke-width="1.45" />
<path d="M164.4 162.55H217.6" stroke="#ff0000" stroke-width="2.5" />
<path d="M164.4 188.0H217.6" stroke="#00ff00" stroke-width="2.5" />
<path d="M164.4 213.4H217.6" stroke="#0000ff" stroke-width="2.5" />
<path d="M164.4 238.9H217.6" stroke="#00ffff" stroke-width="2.5" />
<path d="M164.4 264.2H217.6" stroke="#ff00ff" stroke-width="2.5" />
<path d="M238.11 146.82 238.11 162.40M243.47 156.46 243.47 157.95 244.23 160.17 245.76 161.66 247.29 162.40 249.59 162.40 251.12 161.66 252.65 160.17 253.41 157.95 253.41 156.46 252.65 154.24 251.12 152.75 249.59 152.01 247.29 152.01 245.76 152.75 244.23 154.24 243.47 156.46M260.30 166.85 261.82 167.59 264.12 167.59 265.65 166.85 266.42 166.11 267.18 163.88M258.00 156.46 258.00 157.95 258.76 160.17 260.30 161.66 261.82 162.40 264.12 162.40 265.65 161.66 267.18 160.17M258.00 156.46 258.76 154.24 260.30 152.75 261.82 152.01 264.12 152.01 265.65 152.75 267.18 154.24M267.18 152.01 267.18 154.24M267.18 152.01 267.18 163.88M267.18 154.24 267.18 160.17M267.18 160.17 267.18 163.88M285.54 162.40 285.54 146.82 291.66 162.40 297.78 146.82 297.78 162.40M309.58 165.20 308.47 164.11 307.35 163.57 305.67 163.57 304.56 164.11 303.44 165.20 302.88 166.82 302.88 167.91 303.44 169.53 304.56 170.61 305.67 171.16 307.35 171.16 308.47 170.61 309.58 169.53M313.49 163.57 313.49 168.99 314.05 170.61 315.17 171.16 316.84 171.16 317.96 170.61 319.64 168.99M319.64 163.57 319.64 171.16 319.64 168.99M319.64 163.57 319.64 168.99M322.99 163.57 324.66 163.57M324.66 159.78 324.66 163.57M326.90 163.57 324.66 163.57M327.45 171.16 326.34 171.16 325.22 170.61 324.66 168.99 324.66 163.57" stroke="#505050" stroke-width="0.92" />
<path d="M238.11 172.72 238.11 188.30M243.47 182.36 243.47 183.85 244.23 186.07 245.76 187.56 247.29 188.30 249.59 188.30 251.12 187.56 252.65 186.07 253.41 183.85 253.41 182.36 252.65 180.14 251.12 178.65 249.59 177.91 247.29 177.91 245.76 178.65 244.23 180.14 243.47 182.36M260.30 192.75 261.82 193.49 264.12 193.49 265.65 192.75 266.42 192.01 267.18 189.78M258.00 182.36 258.00 183.85 258.76 186.07 260.30 187.56 261.82 188.30 264.12 188.30 265.65 187.56 267.18 186.07M258.00 182.36 258.76 180.14 260.30 178.65 261.82 177.91 264.12 177.91 265.65 178.65 267.18 180.14M267.18 177.91 267.18 180.14M267.18 177.91 267.18 189.78M267.18 180.14 267.18 186.07M267.18 186.07 267.18 189.78M285.54 188.30 285.54 172.72 291.66 188.30 297.78 172.72 297.78 188.30M303.58 187.85 304.70 187.31 306.37 185.68 306.37 197.06" stroke="#505050" stroke-width="0.92" />
<path d="M248.90 202.91 242.78 202.91 240.86 203.28 238.95 204.40 237.65 206.25 237.19 208.40 237.57 210.48 238.80 212.26 241.09 213.30 243.16 212.85 244.92 211.37 245.99 209.37 246.30 207.22 245.84 205.14 244.69 203.65 243.16 202.91" stroke="#505050" stroke-width="0.92" />
<path d="M240.41 228.81 237.34 239.20M247.14 229.41 246.37 228.81 245.45 228.81 244.23 229.55 241.55 232.15 240.02 233.26 239.03 233.64M239.03 233.64 240.79 233.78 241.78 234.60 243.08 238.31 243.85 239.20 244.69 239.20 245.45 238.46" stroke="#505050" stroke-width="0.92" />
<path d="M242.70 253.91 241.17 254.28 239.64 255.40 238.49 257.25 237.73 259.48 237.73 261.70 238.49 263.41 240.02 264.30 241.55 264.30 243.08 263.56 244.61 261.70 246.14 259.11 247.67 256.14 248.82 253.54M242.70 253.91 244.23 253.91 245.15 254.65 245.76 256.14 246.91 261.70 247.67 263.56 248.44 264.30 249.20 264.30" stroke="#505050" stroke-width="0.92" />
<path d="M348.6 194.1H395.6" stroke="#000" stroke-width="2.5" stroke-dasharray="15.6 16"/>
<path d="M348.2 226.4H400.6" stroke="#505050" stroke-width="0.92" />
<path d="M430.12 183.81 438.45 183.81 430.12 194.20 438.45 194.20M455.86 185.30 469.49 185.30M455.86 189.75 469.49 189.75M486.90 185.30 487.65 181.59 489.17 179.36 491.44 178.62 492.95 178.62 495.22 179.36 496.74 181.59 497.49 185.30 497.49 187.52 496.74 191.23 495.22 193.46 492.95 194.20 491.44 194.20 489.17 193.46 487.65 191.23 486.90 187.52 486.90 185.30" stroke="#505050" stroke-width="0.92" />
<path d="M430.12 215.61 438.45 215.61 430.12 226.00 438.45 226.00M455.86 217.10 469.49 217.10M455.86 221.55 469.49 221.55M486.90 217.10 487.65 213.39 489.17 211.16 491.44 210.42 492.95 210.42 495.22 211.16 496.74 213.39 497.49 217.10 497.49 219.32 496.74 223.03 495.22 225.26 492.95 226.00 491.44 226.00 489.17 225.26 487.65 223.03 486.90 219.32 486.90 217.10M502.49 225.26 503.55 226.30 504.61 225.26 503.55 224.22 502.49 225.26M503.10 225.26 504.00 225.26M509.61 223.03 510.36 224.52 511.12 225.26 513.39 226.00 515.66 226.00 517.93 225.26 519.45 223.77 520.20 221.55 520.20 220.06 519.45 217.84 517.93 216.35 515.66 215.61 513.39 215.61 511.12 216.35 510.36 217.10 511.12 210.42 518.69 210.42" stroke="#505050" stroke-width="0.92" />
</svg>
</body></html>
